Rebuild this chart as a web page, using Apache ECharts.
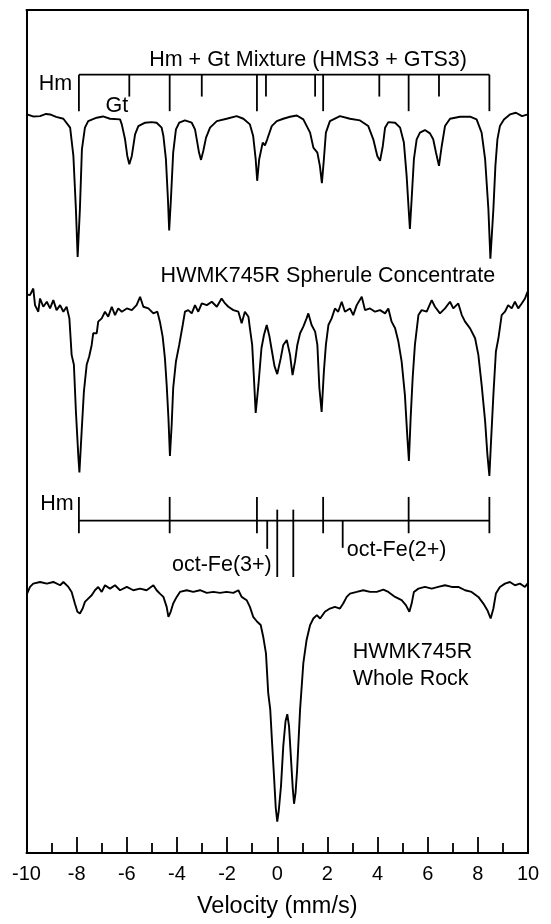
<!DOCTYPE html>
<html>
<head>
<meta charset="utf-8">
<script src="https://cdn.jsdelivr.net/npm/echarts@6/dist/echarts.min.js"></script>
<style>
html,body{margin:0;padding:0;background:#fff;}
#chart{width:551px;height:924px;}
</style>
</head>
<body>
<div id="chart"></div>
<script>
// Velocity (mm/s) vs relative transmission (arbitrary units, spectra offset vertically)
const xTickLabels = ['-10','-8','-6','-4','-2','0','2','4','6','8','10'];

// Hm + Gt Mixture (HMS3 + GTS3)
const mixSpectrum = [
[-9.98,87.61],[-9.74,87.37],[-9.46,87.41],[-9.22,87.67],[-9.06,87.61],[-8.82,87.32],[-8.53,87.10],[-8.26,86.04],[-8.13,82.69],[-8.03,76.40],
[-7.96,70.70],[-7.87,76.40],[-7.79,83.48],[-7.67,86.04],[-7.54,86.82],[-7.20,87.22],[-6.95,87.37],[-6.67,87.10],[-6.27,87.02],[-6.20,86.43],
[-6.07,84.66],[-5.98,82.69],[-5.90,81.71],[-5.80,82.69],[-5.67,85.25],[-5.54,86.23],[-5.27,86.63],[-5.01,86.70],[-4.81,86.63],[-4.61,86.04],
[-4.54,85.05],[-4.44,82.30],[-4.36,77.58],[-4.31,73.84],[-4.24,77.58],[-4.15,83.09],[-4.04,85.84],[-3.91,86.63],[-3.68,86.90],[-3.41,86.63],
[-3.28,85.84],[-3.21,84.66],[-3.12,83.09],[-3.04,82.22],[-2.95,83.28],[-2.84,84.86],[-2.68,86.04],[-2.41,86.82],[-2.02,87.10],[-1.62,87.41],
[-1.35,87.10],[-1.09,86.43],[-0.96,85.05],[-0.86,82.30],[-0.80,79.74],[-0.72,82.30],[-0.58,84.27],[-0.49,83.95],[-0.40,84.66],[-0.22,86.23],
[-0.02,86.82],[0.24,87.10],[0.51,87.34],[0.78,87.49],[1.04,87.02],[1.31,85.45],[1.44,83.68],[1.60,83.09],[1.70,81.51],[1.78,79.47],
[1.86,82.30],[1.94,85.45],[2.10,86.82],[2.50,87.41],[2.90,87.10],[3.30,86.90],[3.63,86.23],[3.83,84.66],[3.99,82.69],[4.10,82.10],
[4.21,83.87],[4.30,86.04],[4.43,86.70],[4.70,86.63],[4.90,86.04],[5.05,84.27],[5.16,80.33],[5.24,76.40],[5.29,74.04],[5.36,77.58],
[5.45,82.30],[5.56,84.66],[5.69,85.45],[5.89,85.76],[6.09,85.37],[6.22,84.66],[6.33,83.09],[6.45,81.51],[6.56,83.87],[6.69,86.23],
[6.89,87.10],[7.29,87.34],[7.69,87.34],[7.95,87.02],[8.15,85.45],[8.29,82.30],[8.42,76.40],[8.50,70.50],[8.62,76.40],[8.70,81.51],
[8.78,84.66],[8.88,86.23],[9.04,87.02],[9.28,87.61],[9.52,87.81],[9.76,87.41],[10.0,87.61]
];

// HWMK745R Spherule Concentrate
const spheruleSpectrum = [
[-9.98,66.25],[-9.86,66.17],[-9.73,66.96],[-9.66,64.99],[-9.53,64.21],[-9.46,65.78],[-9.33,64.80],[-9.19,65.39],[-9.06,64.60],[-8.93,65.58],
[-8.80,64.40],[-8.66,64.99],[-8.53,64.21],[-8.40,64.80],[-8.29,63.42],[-8.20,59.09],[-8.11,57.91],[-8.03,52.41],[-7.93,46.90],[-7.89,45.13],
[-7.80,50.05],[-7.71,54.77],[-7.60,57.91],[-7.50,58.90],[-7.40,60.27],[-7.34,61.65],[-7.20,61.65],[-7.14,63.03],[-7.00,63.42],[-6.87,64.21],
[-6.74,63.62],[-6.60,64.80],[-6.47,63.81],[-6.34,64.60],[-6.20,64.21],[-6.00,64.60],[-5.80,64.40],[-5.61,64.99],[-5.47,65.98],[-5.34,64.80],
[-5.14,64.60],[-4.94,64.01],[-4.78,64.21],[-4.68,63.03],[-4.57,61.26],[-4.48,58.70],[-4.41,55.55],[-4.34,51.62],[-4.28,47.10],[-4.21,50.83],
[-4.15,55.16],[-4.04,58.31],[-3.91,60.27],[-3.77,62.63],[-3.68,64.21],[-3.55,64.40],[-3.41,64.01],[-3.28,64.99],[-3.15,64.21],[-3.01,65.19],
[-2.81,64.99],[-2.61,65.39],[-2.41,64.80],[-2.22,65.78],[-2.08,65.19],[-1.95,64.80],[-1.75,64.40],[-1.55,64.21],[-1.42,62.83],[-1.29,64.21],
[-1.15,63.62],[-1.09,62.24],[-1.00,60.27],[-0.93,56.34],[-0.86,52.21],[-0.75,55.55],[-0.63,59.88],[-0.53,61.45],[-0.42,62.63],[-0.31,61.26],
[-0.21,59.49],[-0.11,57.76],[0.00,56.81],[0.14,58.70],[0.24,60.27],[0.38,60.86],[0.51,59.09],[0.61,56.70],[0.71,58.31],[0.80,60.27],
[0.91,61.65],[1.04,62.44],[1.17,63.42],[1.24,64.01],[1.37,62.63],[1.51,61.85],[1.60,60.27],[1.68,55.16],[1.77,52.33],[1.86,57.13],
[1.94,60.27],[2.04,62.63],[2.17,63.42],[2.30,64.60],[2.43,64.21],[2.57,65.39],[2.70,64.21],[2.90,64.60],[3.03,63.81],[3.17,64.99],
[3.37,65.98],[3.50,64.40],[3.70,64.60],[3.90,64.21],[4.10,64.40],[4.30,64.01],[4.43,64.60],[4.56,63.03],[4.70,62.24],[4.83,60.67],
[4.96,58.31],[5.09,54.37],[5.19,49.26],[5.25,46.51],[5.32,51.62],[5.40,56.34],[5.49,60.27],[5.63,63.81],[5.76,64.40],[5.96,64.21],
[6.16,65.58],[6.29,64.80],[6.49,64.01],[6.69,64.60],[6.89,65.39],[7.02,64.60],[7.22,65.19],[7.36,63.81],[7.49,63.03],[7.69,62.24],
[7.89,61.06],[8.02,59.09],[8.15,55.55],[8.29,51.23],[8.38,47.29],[8.46,44.74],[8.52,48.47],[8.62,54.37],[8.72,59.49],[8.82,61.06],
[8.95,63.81],[9.08,64.21],[9.21,64.99],[9.35,64.60],[9.48,65.39],[9.61,64.60],[9.75,65.19],[9.88,65.78],[9.98,66.57]
];

// HWMK745R Whole Rock
const wholeRockSpectrum = [
[-9.98,30.74],[-9.86,31.56],[-9.73,31.95],[-9.46,32.15],[-9.19,31.95],[-8.93,32.15],[-8.66,31.76],[-8.53,32.15],[-8.33,31.56],[-8.20,30.97],
[-8.07,29.59],[-7.97,28.61],[-7.87,28.41],[-7.76,29.00],[-7.67,29.79],[-7.54,30.18],[-7.40,30.58],[-7.27,31.17],[-7.14,31.56],[-7.00,30.97],
[-6.87,31.76],[-6.67,31.36],[-6.47,31.76],[-6.27,31.17],[-6.00,31.56],[-5.74,31.17],[-5.47,31.36],[-5.21,31.17],[-4.94,31.76],[-4.81,31.17],
[-4.68,30.77],[-4.54,30.38],[-4.41,29.20],[-4.34,28.02],[-4.25,28.61],[-4.15,29.59],[-4.01,30.38],[-3.88,30.97],[-3.61,31.17],[-3.35,30.97],
[-3.08,31.17],[-2.81,30.86],[-2.55,30.97],[-2.28,30.86],[-2.02,30.97],[-1.75,30.86],[-1.55,31.17],[-1.42,30.38],[-1.22,29.99],[-1.09,29.20],
[-0.96,28.02],[-0.80,27.43],[-0.66,27.04],[-0.56,25.66],[-0.45,23.69],[-0.36,18.97],[-0.28,17.05],[-0.21,13.27],[-0.13,9.14],[-0.06,5.37],
[0.00,3.72],[0.06,5.01],[0.15,7.96],[0.24,12.68],[0.33,15.63],[0.40,16.46],[0.47,15.04],[0.53,12.09],[0.62,7.61],[0.67,5.84],
[0.73,7.14],[0.79,9.73],[0.91,17.01],[1.04,22.51],[1.17,25.27],[1.31,27.04],[1.44,27.82],[1.58,28.22],[1.71,27.82],[1.90,28.61],
[2.10,29.00],[2.30,29.20],[2.50,29.00],[2.63,29.59],[2.77,30.38],[2.90,30.77],[3.17,30.97],[3.43,31.17],[3.70,30.97],[3.97,30.97],
[4.23,31.24],[4.43,30.97],[4.70,30.38],[4.96,29.99],[5.13,29.40],[5.27,28.61],[5.36,29.59],[5.45,30.97],[5.63,31.36],[5.89,31.56],
[6.16,31.36],[6.42,31.56],[6.69,31.76],[6.96,31.56],[7.22,31.56],[7.49,31.17],[7.75,30.97],[8.02,30.38],[8.22,29.59],[8.38,28.81],
[8.51,27.82],[8.62,29.00],[8.72,30.77],[8.88,31.56],[9.08,31.95],[9.28,32.15],[9.48,31.76],[9.68,31.95],[9.88,31.56],[9.98,31.95]
];

// Line positions (velocity, mm/s)
const hmLines = [-7.91, -4.29, -0.81, 1.83, 5.24, 8.46];
const gtLines = [-5.90, -3.01, -0.45, 1.51, 4.07, 6.45];
const octFe3Lines = [-0.40, 0.00, 0.64];
const octFe2Lines = [2.61];

// Stick-diagram levels (same arbitrary units as spectra)
const mixBarLevel = 92.33, mixHmEnd = 88.00, mixGtEnd = 89.73;
const sphBarLevel = 39.43, sphHmTop = 42.24, sphHmBottom = 37.93;
const fe3ShortEnd = 36.08, fe3LongTop = 40.73, fe3LongBottom = 32.74, fe2End = 36.20;

// Annotation texts with anchor (velocity, level)
const annoText  = ['Hm + Gt Mixture (HMS3 + GTS3)', 'Hm', 'Gt', 'HWMK745R Spherule Concentrate', 'Hm', 'oct-Fe(3+)', 'oct-Fe(2+)', 'HWMK745R', 'Whole Rock'];
const annoX     = [1.23, -8.18, -6.40, 2.02, -8.12, -0.22, 2.77, 3.01, 3.01];
const annoY     = [94.10, 91.27, 88.59, 68.44, 41.39, 34.16, 35.93, 23.78, 20.59];
const annoAlign = ['center', 'right', 'center', 'center', 'right', 'right', 'left', 'left', 'left'];

// Build segments
const segments = [];
segments.push([hmLines[0], mixBarLevel, hmLines[hmLines.length-1], mixBarLevel]);
hmLines.forEach(v => segments.push([v, mixBarLevel, v, mixHmEnd]));
gtLines.forEach(v => segments.push([v, mixBarLevel, v, mixGtEnd]));
segments.push([hmLines[0], sphBarLevel, hmLines[hmLines.length-1], sphBarLevel]);
hmLines.forEach(v => segments.push([v, sphHmTop, v, sphHmBottom]));
segments.push([octFe3Lines[0], sphBarLevel, octFe3Lines[0], fe3ShortEnd]);
segments.push([octFe3Lines[1], fe3LongTop, octFe3Lines[1], fe3LongBottom]);
segments.push([octFe3Lines[2], fe3LongTop, octFe3Lines[2], fe3LongBottom]);
octFe2Lines.forEach(v => segments.push([v, sphBarLevel, v, fe2End]));

const FONT = '"Liberation Sans", Arial, Helvetica, sans-serif';
const chart = echarts.init(document.getElementById('chart'));
const lineStyle = {color: '#000', width: 1.9};
const spectrumSeries = (d) => ({
  type: 'line', data: d, showSymbol: false, symbol: 'none', silent: true,
  lineStyle: lineStyle, animation: false, clip: true
});
const frameAxisLine = {show: true, onZero: false, lineStyle: {color: '#000', width: 2}};

chart.setOption({
  animation: false,
  backgroundColor: '#fff',
  grid: {left: 26.5, right: 23, top: 10, bottom: 66.5, containLabel: false},
  xAxis: [{
    type: 'value', min: -10, max: 10, interval: 2, position: 'bottom',
    axisLine: frameAxisLine,
    axisTick: {show: true, inside: true, length: 16, lineStyle: {color: '#000', width: 1.8}},
    minorTick: {show: true, splitNumber: 2, length: 10, lineStyle: {color: '#000', width: 1.8}},
    splitLine: {show: false},
    axisLabel: {color: '#000', fontSize: 20, fontFamily: FONT, margin: 11,
      formatter: (v) => xTickLabels[Math.round((v + 10) / 2)]},
    name: 'Velocity (mm/s)', nameLocation: 'middle', nameGap: 42,
    nameTextStyle: {color: '#000', fontSize: 23.5, fontFamily: FONT}
  }, {
    type: 'value', min: -10, max: 10, position: 'top',
    axisLine: frameAxisLine,
    axisTick: {show: false}, axisLabel: {show: false}, splitLine: {show: false}
  }],
  yAxis: [{
    type: 'value', min: 0, max: 100, position: 'left',
    axisLine: frameAxisLine,
    axisTick: {show: false}, axisLabel: {show: false}, splitLine: {show: false}
  }, {
    type: 'value', min: 0, max: 100, position: 'right',
    axisLine: frameAxisLine,
    axisTick: {show: false}, axisLabel: {show: false}, splitLine: {show: false}
  }],
  series: [
    spectrumSeries(mixSpectrum),
    spectrumSeries(spheruleSpectrum),
    spectrumSeries(wholeRockSpectrum),
    {
      type: 'custom', silent: true, clip: false,
      data: segments,
      encode: {x: [0, 2], y: [1, 3]},
      renderItem: (params, api) => {
        const p1 = api.coord([api.value(0), api.value(1)]);
        const p2 = api.coord([api.value(2), api.value(3)]);
        return {type: 'line', shape: {x1: p1[0], y1: p1[1], x2: p2[0], y2: p2[1]},
          style: {stroke: '#000', lineWidth: 1.8}};
      }
    },
    {
      type: 'custom', silent: true, clip: false,
      data: annoX.map((x, i) => [x, annoY[i]]),
      encode: {x: 0, y: 1},
      renderItem: (params, api) => {
        const i = params.dataIndex;
        const p = api.coord([api.value(0), api.value(1)]);
        return {type: 'text', x: p[0], y: p[1],
          style: {text: annoText[i], fill: '#000', font: '21.5px ' + FONT,
            align: annoAlign[i], verticalAlign: 'middle'}};
      }
    }
  ]
});
</script>
</body>
</html>
